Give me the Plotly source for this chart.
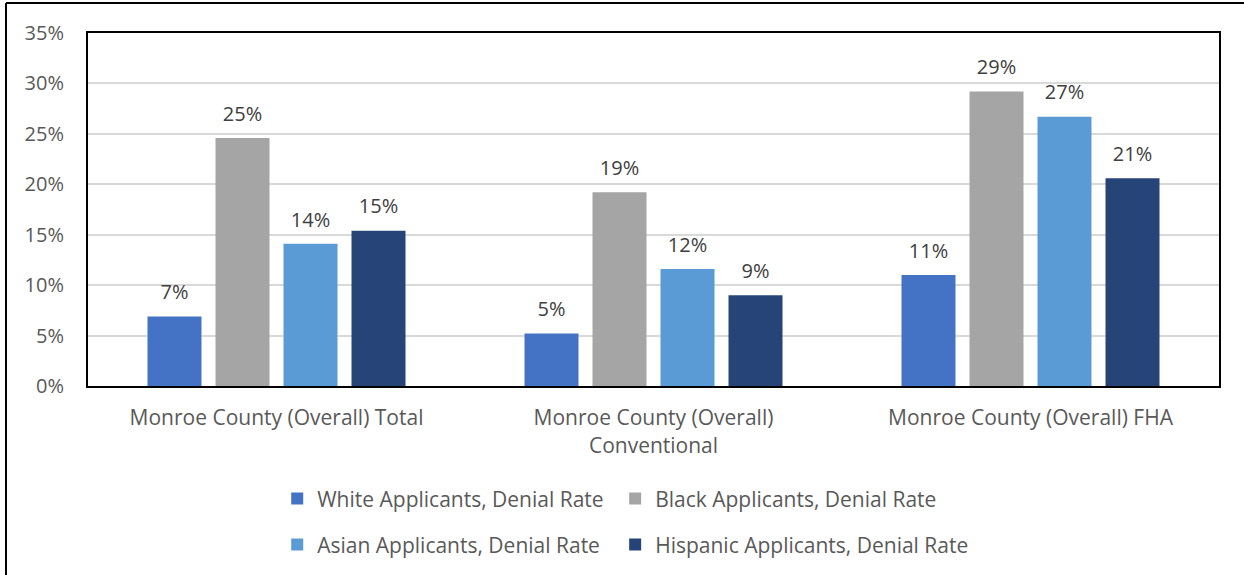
import plotly.graph_objects as go

categories = ["Monroe County (Overall) Total",
              "Monroe County (Overall)<br>Conventional",
              "Monroe County (Overall) FHA"]
series_names = ["White Applicants, Denial Rate",
                "Black Applicants, Denial Rate",
                "Asian Applicants, Denial Rate",
                "Hispanic Applicants, Denial Rate"]
white = [0.069, 0.052, 0.110]
black = [0.246, 0.192, 0.292]
asian = [0.141, 0.116, 0.267]
hispanic = [0.154, 0.090, 0.206]
colors = ["#4472C4", "#A5A5A5", "#5B9BD5", "#264478"]
y_ticks = [0, 0.05, 0.10, 0.15, 0.20, 0.25, 0.30, 0.35]

values = [white, black, asian, hispanic]
FONT = "'Open Sans', 'Noto Sans', sans-serif"

fig = go.Figure()
legends = ["legend", "legend2", "legend3", "legend4"]
for name, vals, col, lg in zip(series_names, values, colors, legends):
    fig.add_trace(go.Bar(x=categories, y=vals, name=name, marker_color=col,
                         marker_line_width=0, legend=lg))
for name, vals in zip(series_names, values):
    fig.add_trace(go.Scatter(x=categories, y=vals, mode="markers+text",
                             text=[f"{v*100:.0f}%" for v in vals],
                             textposition="top center",
                             marker=dict(size=18, color="rgba(0,0,0,0)"),
                             textfont=dict(family=FONT, size=20, color="#404040"),
                             showlegend=False, hoverinfo="skip", cliponaxis=False))

col_x = [0.1673, 0.4661]
row_y = [-0.320, -0.450]
legend_pos = [(col_x[0], row_y[0]), (col_x[1], row_y[0]), (col_x[0], row_y[1]), (col_x[1], row_y[1])]
legend_cfg = {}
for lg, (lx, ly) in zip(legends, legend_pos):
    legend_cfg[lg] = dict(orientation="h", x=lx, y=ly, xanchor="left", yanchor="middle",
                          font=dict(family=FONT, size=21, color="#595959"),
                          bgcolor="rgba(0,0,0,0)")

fig.update_layout(
    width=1244, height=575,
    margin=dict(l=88, r=25, t=33, b=189, autoexpand=False),
    paper_bgcolor="white", plot_bgcolor="white",
    barmode="group", bargap=0.2785, bargroupgap=0.206,
    scattermode="group", scattergap=0.2785,
    font=dict(family=FONT, color="#595959", size=21),
    showlegend=True,
    shapes=[
        dict(type="line", xref="paper", yref="paper", x0=-0.0725, x1=1.03, y0=1.085, y1=1.085,
             line=dict(color="black", width=2)),
        dict(type="line", xref="paper", yref="paper", x0=-0.0725, x1=-0.0725, y0=1.085, y1=-0.6,
             line=dict(color="black", width=2)),
    ],
    **legend_cfg,
)
fig.update_xaxes(showline=True, linecolor="black", linewidth=2, mirror=True,
                 ticks="", ticklabelstandoff=12,
                 tickfont=dict(family=FONT, size=21, color="#595959"))
fig.update_yaxes(range=[0, 0.35], tickvals=y_ticks, ticktext=[f"{int(round(t*100))}%" for t in y_ticks],
                 showgrid=True, gridcolor="#D9D9D9", gridwidth=1.5,
                 showline=True, linecolor="black", linewidth=2, mirror=True,
                 ticks="", ticklabelstandoff=18, zeroline=False,
                 tickfont=dict(family=FONT, size=20, color="#595959"))

fig.write_html("out.html", config={"displayModeBar": False},
               post_script="document.body.style.margin='0';")
